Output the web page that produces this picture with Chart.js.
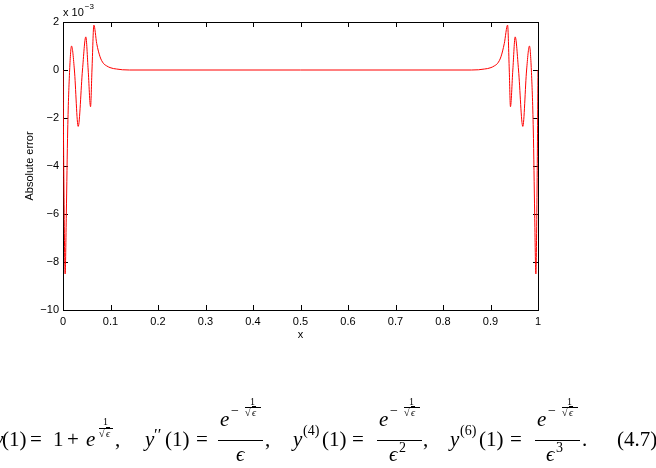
<!DOCTYPE html>
<html>
<head>
<meta charset="utf-8">
<script src="https://cdn.jsdelivr.net/npm/chart.js@4/dist/chart.umd.min.js"></script>
<style>
  body { margin: 0; width: 656px; height: 468px; overflow: hidden; background: #fff; position: relative; }
  #wrap { position: absolute; left: 0; top: 0; width: 656px; height: 360px; }
  #eq { position: absolute; left: 0; top: 0; width: 656px; height: 468px; font-family: "Liberation Serif", "DejaVu Serif", serif; color: #000; }
  #eq span { position: absolute; line-height: 0; white-space: nowrap; }
  #eq .bar { position: absolute; height: 0; border-top: 1px solid #000; }
  .it { font-style: italic; }
  .ov { text-decoration: overline; }
</style>
</head>
<body>
<div id="wrap"><canvas id="Chart" width="656" height="360"></canvas></div>
<div id="eq"></div>
<script>
  // absolute error, in units of 1e-3
  const xValues = [0, 0.002, 0.0045, 0.007, 0.0099, 0.014, 0.018, 0.024, 0.032, 0.041, 0.048, 0.053, 0.058, 0.061, 0.065,
    0.071, 0.078, 0.085, 0.092, 0.099, 0.106, 0.113, 0.125, 0.14,
    0.5,
    0.86, 0.875, 0.887, 0.894, 0.901, 0.908, 0.915, 0.922, 0.929,
    0.936, 0.9395, 0.942, 0.947, 0.952, 0.959, 0.968, 0.976, 0.982, 0.986, 0.9901, 0.993, 0.9955, 0.998, 1];
  const yValues = [0, -5, -8.5, -6, -2.5, 0, 1.0, 0, -2.35, 0, 1.38, 0, -1.53, 0, 1.87,
    1.1, 0.55, 0.28, 0.17, 0.1, 0.06, 0.04, 0.01, 0,
    0,
    0, 0.01, 0.04, 0.06, 0.1, 0.17, 0.28, 0.55, 1.1,
    1.87, 0, -1.53, 0, 1.38, 0, -2.35, 0, 1.0, 0, -2.5, -6, -8.5, -5, 0];

  const xTicks = [0, 0.1, 0.2, 0.3, 0.4, 0.5, 0.6, 0.7, 0.8, 0.9, 1];
  const yTicks = [-10, -8, -6, -4, -2, 0, 2];

  const points = xValues.map((x, i) => ({ x: x, y: yValues[i] }));
  const fmt = v => String(v).replace("-", "\u2212");

  const frame = {
    id: "frame",
    beforeDatasetsDraw(chart) {
      const { ctx, chartArea: a, scales } = chart;
      ctx.save();
      ctx.strokeStyle = "#000";
      ctx.lineWidth = 1;
      ctx.strokeRect(a.left + 0.5, a.top + 0.5, a.right - a.left, a.bottom - a.top);
      ctx.beginPath();
      xTicks.forEach(v => {
        const px = Math.round(scales.x.getPixelForValue(v)) + 0.5;
        ctx.moveTo(px, a.bottom); ctx.lineTo(px, a.bottom - 5);
        ctx.moveTo(px, a.top); ctx.lineTo(px, a.top + 5);
      });
      yTicks.forEach(v => {
        const py = Math.round(scales.y.getPixelForValue(v)) + 0.5;
        ctx.moveTo(a.left, py); ctx.lineTo(a.left + 5, py);
        ctx.moveTo(a.right, py); ctx.lineTo(a.right - 5, py);
      });
      ctx.stroke();
      // exponent label
      ctx.fillStyle = "#000";
      ctx.font = '11px "Liberation Sans", Arial, sans-serif';
      ctx.textBaseline = "alphabetic";
      ctx.fillText("x 10", a.left, 16);
      const w = ctx.measureText("x 10").width;
      ctx.font = '8px "Liberation Sans", Arial, sans-serif';
      ctx.fillText("\u22123", a.left + w + 1, 9);
      ctx.restore();
    }
  };

  const ctx = document.getElementById("Chart").getContext("2d");
  const tickFont = { family: '"Liberation Sans", Arial, sans-serif', size: 11 };

  const errChart = new Chart(ctx, {
    type: "line",
    data: {
      datasets: [
        {
          data: points,
          borderColor: "#ff0000",
          borderWidth: 1,
          pointRadius: 0,
          fill: false,
          cubicInterpolationMode: "monotone",
        },
      ],
    },
    options: {
      responsive: false,
      animation: false,
      devicePixelRatio: 1,
      layout: { padding: { left: 0, right: 118, top: 22, bottom: 0 } },
      plugins: { legend: { display: false }, tooltip: { enabled: false } },
      scales: {
        x: {
          type: "linear",
          min: 0,
          max: 1,
          afterBuildTicks: s => { s.ticks = xTicks.map(v => ({ value: v })); },
          afterFit: s => { s.height = 50; },
          grid: { display: false, drawTicks: false, tickLength: 0 },
          border: { display: false },
          ticks: { color: "#000", font: tickFont, padding: 5, maxRotation: 0, autoSkip: false, callback: v => fmt(v) },
          title: { display: true, text: "x", color: "#000", font: tickFont, padding: { top: 0, bottom: 18 } },
        },
        y: {
          min: -10,
          max: 2,
          afterBuildTicks: s => { s.ticks = yTicks.map(v => ({ value: v })); },
          afterFit: s => { s.width = 63; },
          grid: { display: false, drawTicks: false, tickLength: 0 },
          border: { display: false },
          ticks: { color: "#000", font: tickFont, padding: 4, callback: v => fmt(v) },
          title: { display: true, text: "Absolute error", color: "#000", font: tickFont, padding: { top: 23, bottom: 0 } },
        },
      },
    },
    plugins: [frame],
  });

  // equation (4.7) below the figure
  const eq = document.getElementById("eq");
  function t(text, left, base, size, cls) {
    const s = document.createElement("span");
    s.textContent = text;
    s.style.left = left + "px";
    s.style.top = (base - 0.3375 * size) + "px";
    s.style.fontSize = size + "px";
    if (cls) s.className = cls;
    eq.appendChild(s);
  }
  function bar(left, top, width) {
    const d = document.createElement("div");
    d.className = "bar";
    d.style.left = left + "px";
    d.style.top = top + "px";
    d.style.width = width + "px";
    eq.appendChild(d);
  }
  function expFrac(left) {
    // e^{-1/sqrt(eps)} numerator
    t("e", left, 426, 21, "it");
    t("\u2212", left + 11, 416, 14);
    t("1", left + 30, 405, 10);
    bar(left + 25, 407, 16);
    t("\u221A", left + 25, 416, 10);
    t("\u03F5", left + 32, 416, 10, "it ov");
  }
  const B = 446;
  t("y", -6, B, 21, "it");
  t("(1)", 2, B, 21);
  t("=", 30, B, 21);
  t("1", 53, B, 21);
  t("+", 67, B, 21);
  t("e", 86, B, 21, "it");
  t("1", 103, 425, 10);
  bar(99, 428, 14);
  t("\u221A", 99, 437, 10);
  t("\u03F5", 106, 437, 10, "it ov");
  t(",", 115, B, 21);

  t("y", 145, B, 21, "it");
  t("\u2032\u2032", 154, 441, 17);
  t("(1)", 165, B, 21);
  t("=", 196, B, 21);
  bar(218, 440, 45);
  expFrac(220);
  t("\u03F5", 236, 461, 21, "it");
  t(",", 265, B, 21);

  t("y", 293, B, 21, "it");
  t("(4)", 303, 436, 14);
  t("(1)", 322, B, 21);
  t("=", 352, B, 21);
  bar(377, 440, 45);
  expFrac(379);
  t("\u03F5", 389, 461, 21, "it");
  t("2", 399, 453, 14);
  t(",", 423, B, 21);

  t("y", 450, B, 21, "it");
  t("(6)", 460, 436, 14);
  t("(1)", 479, B, 21);
  t("=", 510, B, 21);
  bar(535, 440, 45);
  expFrac(537);
  t("\u03F5", 546, 461, 21, "it");
  t("3", 556, 453, 14);
  t(".", 582, B, 21);

  t("(4.7)", 617, B, 21);
</script>
</body>
</html>
